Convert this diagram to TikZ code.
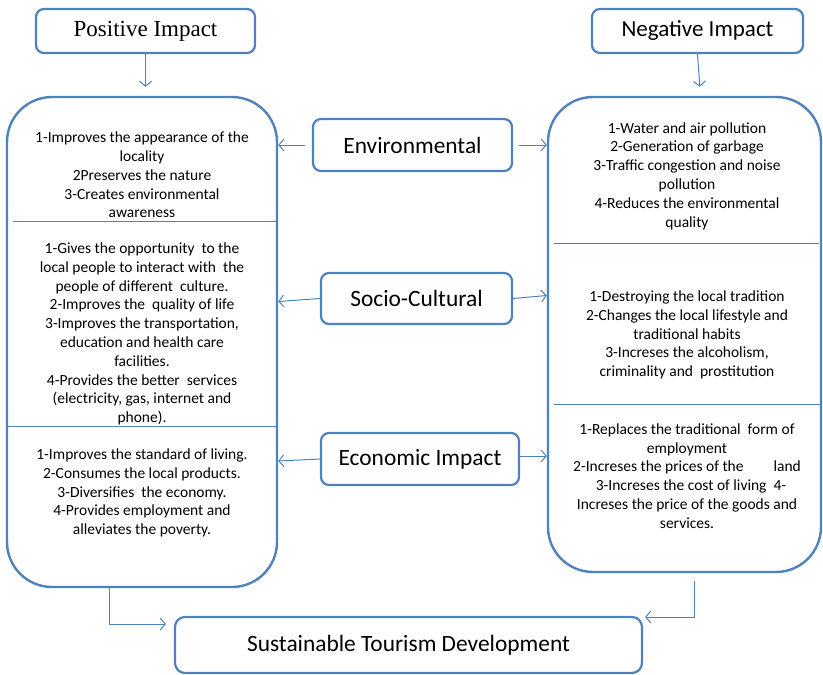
\documentclass[tikz,border=0pt]{standalone}
\usepackage{fontspec}
\setmainfont{Carlito}
\newfontfamily\timesfont{Liberation Serif}
\usetikzlibrary{arrows.meta}
\definecolor{boxblue}{RGB}{79,129,189}

\begin{document}
\begin{tikzpicture}[x=1pt, y=-1pt,
    box/.style={draw=boxblue, line width=2.2pt, rounded corners=8pt, inner sep=0pt},
    bigbox/.style={draw=boxblue, line width=2.4pt, rounded corners=45pt, inner sep=0pt},
    item/.style={align=center, font=\fontsize{15.5}{18.8}\selectfont},
    divline/.style={draw=boxblue, line width=1pt},
    arr/.style={draw=boxblue, line width=1pt, -{Straight Barb[length=5pt,width=12pt]}}]
    \useasboundingbox (0,0) rectangle (823,675);

    % 見出し
    \node[box, minimum width=219pt, minimum height=44pt, font=\timesfont\fontsize{23}{26}\selectfont] (pos) at (145.5,31) {Positive Impact};
    \node[box, minimum width=211pt, minimum height=44pt, font=\fontsize{23}{26}\selectfont] (neg) at (697.5,31) {Negative Impact};

    % 大きな枠
    \node[bigbox, minimum width=270pt, minimum height=490pt] (posbox) at (142,342) {};
    \node[bigbox, minimum width=273pt, minimum height=475pt] (negbox) at (684.5,334.5) {};

    % 中央の項目
    \node[box, minimum width=199pt, minimum height=52pt, font=\fontsize{23.4}{26}\selectfont] (env) at (412.5,145) {Environmental};
    \node[box, minimum width=191pt, minimum height=51pt, font=\fontsize{23.4}{26}\selectfont] (soc) at (416.5,298.5) {Socio-Cultural};
    \node[box, minimum width=198pt, minimum height=52pt, font=\fontsize{23.4}{26}\selectfont] (eco) at (420,459) {Economic Impact};

    % 結論
    \node[box, rounded corners=10pt, minimum width=467pt, minimum height=56pt, font=\fontsize{23.4}{26}\selectfont] (sust) at (408.5,645) {Sustainable Tourism Development};

    % 区切り線
    \coordinate (pd1) at (0,221);
    \coordinate (pd2) at (0,426);
    \coordinate (nd1) at (0,243);
    \coordinate (nd2) at (0,404);
    \draw[divline] ([xshift=7pt]posbox.west |- pd1) -- (posbox.east |- pd1);
    \draw[divline] (posbox.west |- pd2) -- (posbox.east |- pd2);
    \draw[divline] ([xshift=7pt]negbox.west |- nd1) -- ([xshift=-3pt]negbox.east |- nd1);
    \draw[divline] ([xshift=7pt]negbox.west |- nd2) -- (negbox.east |- nd2);

    % 正の影響
    \node[item] (pos1) at (142,175) {1-Improves the appearance of the\\locality\\2Preserves the nature\\3-Creates environmental\\awareness};
    \node[item] (pos2) at (142,334) {1-Gives the opportunity\ \ to the\\local people to interact with\ \ the\\people of different\ \ culture.\\2-Improves the\ \ quality of life\\3-Improves the transportation,\\education and health care\\facilities.\\4-Provides the better\ \ services\\(electricity, gas, internet and\\phone).};
    \node[item] (pos3) at (142,493) {1-Improves the standard of living.\\2-Consumes the local products.\\3-Diversifies\ \ the economy.\\4-Provides employment and\\alleviates the poverty.};

    % 負の影響
    \node[item] (neg1) at (687,176) {1-Water and air pollution\\2-Generation of garbage\\3-Traffic congestion and noise\\pollution\\4-Reduces the environmental\\quality};
    \node[item] (neg2) at (687,335) {1-Destroying the local tradition\\2-Changes the local lifestyle and\\traditional habits\\3-Increses the alcoholism,\\criminality and\ \ prostitution};
    \node[item] (neg3) at (687,476) {1-Replaces the traditional\ \ form of\\employment\\2-Increses the prices of the\hspace{30pt}land\\\hspace{8pt}3-Increses the cost of living\ \ 4-\\Increses the price of the goods and\\services.};

    % 矢印
    \draw[arr, shorten >=9pt] (pos.south) -- (pos.south |- posbox.north);
    \draw[arr, shorten >=9pt] (neg.south) -- ([xshift=3pt]neg.south |- negbox.north);
    \draw[arr, shorten <=7pt] (env.west) -- (env.west -| posbox.east);
    \draw[arr, shorten <=6pt] (env.east) -- (env.east -| negbox.west);
    \draw[arr] (soc.west) -- ([yshift=-3pt]soc.west -| posbox.east);
    \draw[arr] (soc.east) -- ([yshift=3pt]soc.east -| negbox.west);
    \draw[arr] (eco.west) -- ([yshift=-2pt]eco.west -| posbox.east);
    \draw[arr] ([yshift=3pt]eco.east) -- ([yshift=3pt]eco.east -| negbox.west);
    \coordinate (posdown) at (109,624);
    \coordinate (negdown) at (694,617);
    \draw[arr] (posdown |- posbox.south) |- ([xshift=-8pt]posdown -| sust.west);
    \draw[arr] ([yshift=-8pt]negdown |- negbox.south) |- ([xshift=2pt]negdown -| sust.east);
\end{tikzpicture}
\end{document}
